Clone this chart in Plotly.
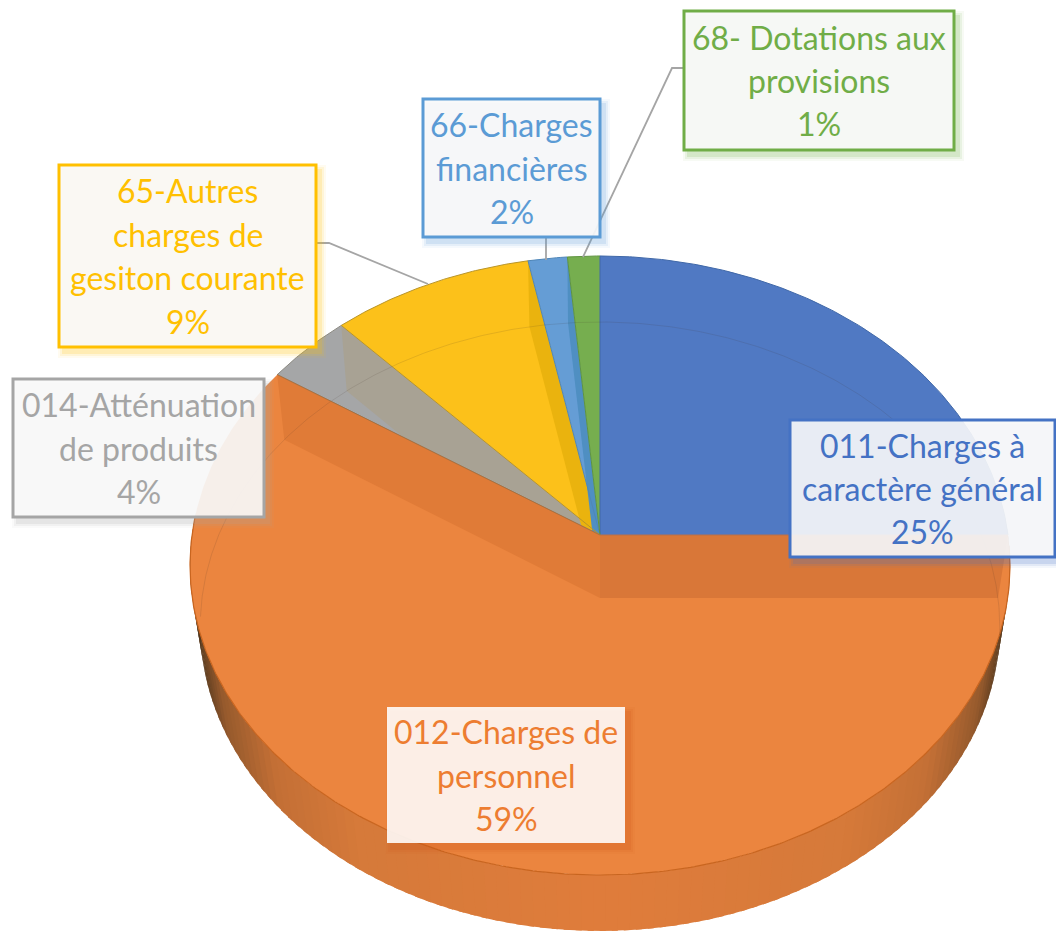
import numpy as np
import plotly.graph_objects as go

# ---- data
categories = [["011-Charges à", "caractère général"], ["012-Charges de", "personnel"],
              ["014-Atténuation", "de produits"], ["65-Autres", "charges de", "gesiton courante"],
              ["66-Charges", "financières"], ["68- Dotations aux", "provisions"]]
shares = [25.0, 59.3, 3.8, 8.8, 1.7, 1.4]
percent_labels = ["25%", "59%", "4%", "9%", "2%", "1%"]

# ---- styles
face_colors = ["#5079C3", "#EB853F", "#A5A6A7", "#FCC11A", "#659DD5", "#76AE4F"]
wall_colors = [None, None, "#A8A294", "#EAB30E", "#4F8FC2", None]
text_colors = ["#4472C4", "#ED7D31", "#A5A5A5", "#FFC000", "#5B9BD5", "#70AD47"]
edge_colors = ["#4068A8", "#C9651F", "#8E8C84", "#B9952A", "#4F86B8", "#5F9440"]
# x0, x1, y0, y1 of each label box
boxes = [(790, 1055, 420, 557), (387, 625, 707, 843), (13, 264, 379, 517),
         (59, 316, 165, 347), (423, 600, 99, 237), (684, 954, 11, 150)]
leaders = ["M 316 243 L 329 243 L 428 284", "M 546 237 L 546 260", "M 684 68 L 672 68 L 583 257"]
LINE_STEP = 43.4

TOP = dict(cx=600, cy=535, a=306.5, b=408, k=0.0985)
LOW = dict(cx=600, cy=598, a=301.8, b=398, k=0.0935)


def proj(theta, g):
    """Point on a perspective-projected pie rim (theta clockwise from 12 o'clock, in degrees)."""
    t = np.radians(theta)
    d = 1 + g["k"] * np.cos(t)
    return g["cx"] + g["b"] * np.sin(t) / d, g["cy"] - g["a"] * np.cos(t) / d


def arc(t0, t1, g, n=None):
    n = n or max(3, int(abs(t1 - t0)) * 2)
    return proj(np.linspace(t0, t1, n), g)


fig = go.Figure()


def poly(x, y, color, line=None, lw=0):
    fig.add_trace(go.Scatter(x=list(x), y=list(y), mode="lines", fill="toself", fillcolor=color,
                             line=dict(color=line or color, width=lw), hoverinfo="skip", showlegend=False))


def stroke(x, y, color, lw=1):
    fig.add_trace(go.Scatter(x=list(x), y=list(y), mode="lines", line=dict(color=color, width=lw),
                             hoverinfo="skip", showlegend=False))


cum = np.concatenate([[0], np.cumsum(shares)]) * 3.6
start, end = cum[:-1], cum[1:]
ORANGE = 1

# ---- side wall: shaded strips between the upper and lower rim, front half
stops_u = [0.0, 0.6, 0.8, 0.93, 1.0]
stops_c = np.array([[224, 125, 60], [214, 122, 58], [196, 112, 54], [150, 90, 45], [80, 55, 30]])
edges = np.linspace(start[ORANGE] - 5, end[ORANGE] - 30, 121)
for t0, t1 in zip(edges[:-1], edges[1:]):
    xt, yt = proj(np.array([t0, t1 + 0.8]), TOP)
    xl, yl = proj(np.array([t0, t1 + 0.8]), LOW)
    u = min(1.0, abs((xt.mean() + xl.mean()) / 2 - 600) / 405)
    c = [int(np.interp(u, stops_u, stops_c[:, i])) for i in range(3)]
    col = f"rgb({c[0]},{c[1]},{c[2]})"
    poly([xt[0], xt[1], xl[1], xl[0]], [yt[0], yt[1], yl[1], yl[0]], col)

# ---- top faces of the back slices
for i in [0, 2, 3, 4, 5]:
    ax, ay = arc(start[i], end[i], TOP)
    poly(np.r_[TOP["cx"], ax, TOP["cx"]], np.r_[TOP["cy"], ay, TOP["cy"]], face_colors[i])

# ---- cut walls seen through the translucent slices
for i in [2, 3, 4]:
    xt, yt = proj(end[i], TOP)
    xl, yl = proj(end[i], LOW)
    poly([xt, xl, LOW["cx"], TOP["cx"]], [yt, yl, LOW["cy"], TOP["cy"]], wall_colors[i])

# ---- radial edges and rim of the back slices
for i in [0, 2, 3, 4, 5]:
    xe, ye = proj(start[i], TOP)
    stroke([TOP["cx"], xe], [TOP["cy"], ye], edge_colors[i], 1)
    ax, ay = arc(start[i], end[i], TOP)
    stroke(ax, ay, edge_colors[i], 1)

# ---- large orange slice
ax, ay = arc(start[ORANGE], end[ORANGE], TOP)
poly(np.r_[TOP["cx"], ax, TOP["cx"]], np.r_[TOP["cy"], ay, TOP["cy"]], face_colors[ORANGE])
for t, col in [(start[ORANGE], "#D97738"), (end[ORANGE], "#E07B37")]:
    xt, yt = proj(t, TOP)
    xl, yl = proj(t, LOW)
    poly([TOP["cx"], xt, xl, LOW["cx"]], [TOP["cy"], yt, yl, LOW["cy"]], col)
fx, fy = arc(start[ORANGE] + 2, end[ORANGE] - 30, TOP)
stroke(fx, fy, "#C9651F", 1.2)

# ---- lower rim seen through the pie
bx, by = arc(end[ORANGE] - 37, 360 + start[ORANGE] + 7, LOW)
stroke(bx, by, "rgba(60,50,40,0.13)", 1)

xt, yt = proj(end[ORANGE], TOP)
stroke([TOP["cx"], xt], [TOP["cy"], yt], "#A9703F", 1)
xt, yt = proj(start[ORANGE], TOP)
stroke([TOP["cx"], xt], [TOP["cy"], yt], "#B8704A", 1)

# ---- leader lines, label shadows, label boxes
shapes = [dict(type="path", path=p, line=dict(color="#A5A5A5", width=1.8), layer="above") for p in leaders]
annotations = []
for i, (x0, x1, y0, y1) in enumerate(boxes):
    r, g, b = [int(text_colors[i][j:j + 2], 16) for j in (1, 3, 5)]
    if i == ORANGE:
        r, g, b = 205, 90, 25
    for grow, alpha in [(5, 0.06), (3, 0.10), (1, 0.16)]:
        shapes.append(dict(type="rect", x0=x0 + 4 - grow, x1=x1 + 5 + grow, y0=y0 + 5 - grow, y1=y1 + 6 + grow,
                           fillcolor=f"rgba({r},{g},{b},{alpha})", line=dict(width=0), layer="above"))
    bordered = i != ORANGE
    shapes.append(dict(type="rect", x0=x0, x1=x1, y0=y0, y1=y1, layer="above",
                       fillcolor="rgba(255,255,255,0.88)" if not bordered else "rgba(250,250,249,0.9)",
                       line=dict(color=text_colors[i], width=3 if bordered else 0)))
    lines = categories[i] + [percent_labels[i]]
    mid = (y0 + y1) / 2
    for n, line in enumerate(lines):
        annotations.append(dict(x=(x0 + x1) / 2, y=mid + (n - (len(lines) - 1) / 2) * LINE_STEP,
                                xref="x", yref="y", showarrow=False, text=line, align="center",
                                xanchor="center", yanchor="middle",
                                font=dict(family="Lato, Carlito, sans-serif", size=32, color=text_colors[i])))

fig.update_layout(
    width=1056, height=931, margin=dict(l=0, r=0, t=0, b=0),
    paper_bgcolor="white", plot_bgcolor="white", showlegend=False,
    xaxis=dict(range=[0, 1056], visible=False, fixedrange=True),
    yaxis=dict(range=[931, 0], visible=False, fixedrange=True),
    shapes=shapes, annotations=annotations,
)
fig.write_html("out.html", post_script="document.body.style.margin='0';", config=dict(displayModeBar=False))
